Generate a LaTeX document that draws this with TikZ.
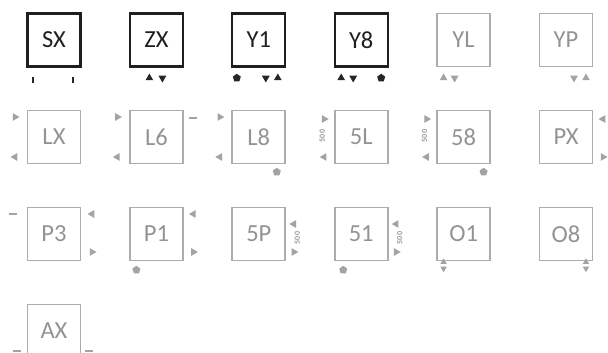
\documentclass[tikz,border=0pt]{standalone}
\usepackage{fontspec}
\setmainfont{Carlito}
\usetikzlibrary{shapes.geometric}

\begin{document}
\begin{tikzpicture}[x=1pt,y=-1pt]
    % 设置样式
    \tikzset{
        box/.style={rectangle, draw=black!88, line width=2.2pt, minimum size=53pt, inner sep=0pt,
                    text=black!88, font=\fontsize{24.5}{27}\selectfont},
        greybox/.style={box, draw=gray!65, line width=1.8pt, text=gray!85},
        dk/.style={fill=black!85},
        lt/.style={fill=gray!72, text=gray!80},
        tri/.style={regular polygon, regular polygon sides=3, inner sep=0pt, minimum size=9pt},
        tup/.style={tri},
        tdn/.style={tri, shape border rotate=180},
        tlt/.style={tri, shape border rotate=90},
        trt/.style={tri, shape border rotate=-90},
        plug/.style={regular polygon, regular polygon sides=5, inner sep=0pt, minimum size=8.5pt},
        vbar/.style={rectangle, inner sep=0pt, minimum width=2.5pt, minimum height=6pt},
        hbar/.style={rectangle, inner sep=0pt, minimum width=8pt, minimum height=2pt},
        len/.style={font=\fontsize{8}{8}\selectfont\bfseries, rotate=90, inner sep=0pt},
    }

    % 画布范围
    \useasboundingbox (0,0) rectangle (608,353);
    \clip (0,0) rectangle (608,353);

    % 黑色方框
    \foreach \lbl [count=\i from 0] in {SX,ZX,Y1,Y8}
        \node[box] (\lbl) at (54+102.4*\i,40) {\lbl};

    % 灰色方框
    \foreach \lbl/\c/\r in {YL/4/0, YP/5/0, LX/0/1, L6/1/1, L8/2/1, 5L/3/1, 58/4/1, PX/5/1,
                            P3/0/2, P1/1/2, 5P/2/2, 51/3/2, O1/4/2, O8/5/2, AX/0/3}
        \node[greybox] (\lbl) at (54+102.4*\c,40+97*\r) {\lbl};

    % 第一行标记
    \node[vbar,dk] (SXa) at ([shift={(-21,40)}]SX.center) {};
    \node[vbar,dk] (SXb) at ([shift={(19,40)}]SX.center) {};
    \node[tup,dk] (ZXa) at ([shift={(-7,38)}]ZX.center) {};
    \node[tdn,dk] (ZXb) at ([shift={(6,38)}]ZX.center) {};
    \node[plug,dk] (Y1a) at ([shift={(-22,38)}]Y1.center) {};
    \node[tdn,dk] (Y1b) at ([shift={(7,38)}]Y1.center) {};
    \node[tup,dk] (Y1c) at ([shift={(19,38)}]Y1.center) {};
    \node[tup,dk] (Y8a) at ([shift={(-20,38)}]Y8.center) {};
    \node[tdn,dk] (Y8b) at ([shift={(-8,38)}]Y8.center) {};
    \node[plug,dk] (Y8c) at ([shift={(20,38)}]Y8.center) {};
    \node[tup,lt] (YLa) at ([shift={(-20,38)}]YL.center) {};
    \node[tdn,lt] (YLb) at ([shift={(-9,38)}]YL.center) {};
    \node[tdn,lt] (YPa) at ([shift={(8,38)}]YP.center) {};
    \node[tup,lt] (YPb) at ([shift={(20,38)}]YP.center) {};

    % 第二行标记
    \foreach \lbl in {LX,L6,L8} {
        \node[trt,lt] (\lbl a) at ([shift={(-39,-20)}]\lbl.center) {};
        \node[tlt,lt] (\lbl b) at ([shift={(-39,20)}]\lbl.center) {};
    }
    \node[hbar,lt] (L6c) at ([shift={(37,-19)}]L6.center) {};
    \node[plug,lt] (L8c) at ([shift={(18,35)}]L8.center) {};
    \foreach \lbl in {5L,58} {
        \node[trt,lt] (\lbl a) at ([shift={(-37,-18)}]\lbl.center) {};
        \node[tlt,lt] (\lbl b) at ([shift={(-37,20)}]\lbl.center) {};
        \node[len,lt,fill=none] (\lbl c) at ([shift={(-39,-1)}]\lbl.center) {500};
    }
    \node[plug,lt] (58d) at ([shift={(20,35)}]58.center) {};
    \node[tlt,lt] (PXa) at ([shift={(37,-18)}]PX.center) {};
    \node[trt,lt] (PXb) at ([shift={(37,20)}]PX.center) {};

    % 第三行标记
    \node[hbar,lt] (P3a) at ([shift={(-41,-20)}]P3.center) {};
    \node[tlt,lt] (P3b) at ([shift={(38,-20)}]P3.center) {};
    \node[trt,lt] (P3c) at ([shift={(38,18)}]P3.center) {};
    \node[tlt,lt] (P1a) at ([shift={(37,-20)}]P1.center) {};
    \node[trt,lt] (P1b) at ([shift={(37,18)}]P1.center) {};
    \node[plug,lt] (P1c) at ([shift={(-20,36)}]P1.center) {};
    \foreach \lbl in {5P,51} {
        \node[tlt,lt] (\lbl a) at ([shift={(35,-10)}]\lbl.center) {};
        \node[trt,lt] (\lbl b) at ([shift={(35,18)}]\lbl.center) {};
        \node[len,lt,fill=none] (\lbl c) at ([shift={(38.5,4)}]\lbl.center) {500};
    }
    \node[plug,lt] (51d) at ([shift={(-18,36)}]51.center) {};
    \node[tup,lt,minimum size=7.5pt] (O1a) at ([shift={(-20,28)}]O1.center) {};
    \node[tdn,lt,minimum size=7.5pt] (O1b) at ([shift={(-20,34.5)}]O1.center) {};
    \node[tup,lt,minimum size=7.5pt] (O8a) at ([shift={(20,28)}]O8.center) {};
    \node[tdn,lt,minimum size=7.5pt] (O8b) at ([shift={(20,34.5)}]O8.center) {};

    % 第四行标记
    \node[hbar,lt] (AXa) at ([shift={(-37,19.5)}]AX.center) {};
    \node[hbar,lt] (AXb) at ([shift={(35,19.5)}]AX.center) {};
\end{tikzpicture}
\end{document}
